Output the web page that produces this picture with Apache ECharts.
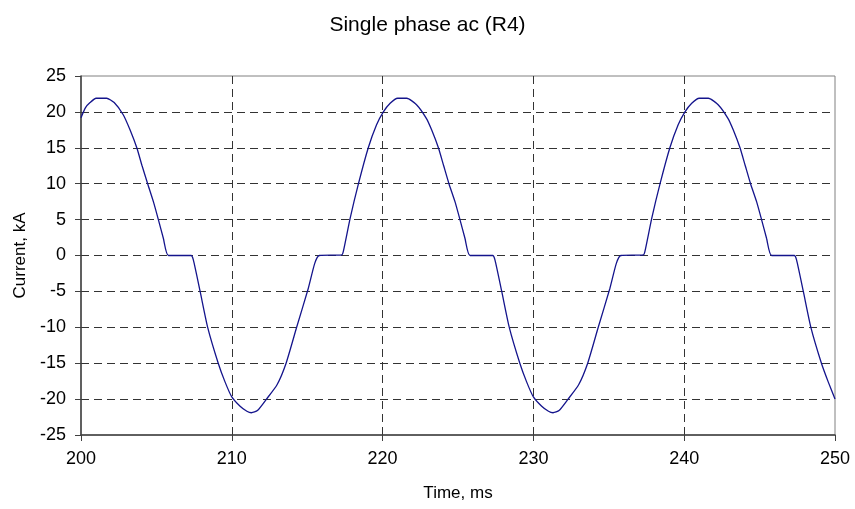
<!DOCTYPE html>
<html>
<head>
<meta charset="utf-8">
<script src="https://cdn.jsdelivr.net/npm/echarts@6/dist/echarts.min.js"></script>
<style>
html,body{margin:0;padding:0;background:#fff;}
#chart{width:855px;height:509px;}
</style>
</head>
<body>
<div id="chart"></div>
<script>
var chartTitle = 'Single phase ac (R4)';
var xAxisName = 'Time, ms';
var yAxisName = 'Current, kA';

var timeMs = [
200.0,200.3,200.6,201.0,201.7,202.2,202.8,203.25,203.7,204.05,204.42,204.8,205.13,205.46,205.8,
207.3,207.45,207.9,208.4,209.1,209.55,210.0,210.55,211.0,211.3,211.7,212.3,213.0,213.6,214.3,215.07,215.5,215.8,
217.3,217.4,217.85,218.4,219.05,219.6,220.05,220.5,221.0,221.6,222.25,222.9,223.25,223.7,224.05,224.4,224.8,225.13,225.46,225.8,
227.3,227.45,227.9,228.4,229.1,229.55,230.0,230.55,231.0,231.3,231.7,232.3,233.0,233.6,234.3,235.07,235.5,235.8,
237.3,237.4,237.85,238.4,239.05,239.6,240.05,240.5,241.0,241.6,242.25,242.9,243.25,243.7,244.05,244.4,244.8,245.13,245.46,245.8,
247.3,247.45,247.9,248.4,249.1,249.55,250.0
];

var currentKA = [
19.2,20.6,21.3,21.9,21.9,21.3,19.6,17.5,15.0,12.5,10.0,7.5,5.0,2.4,0,
0,-0.6,-5.0,-10.0,-15.0,-17.6,-19.7,-21.0,-21.7,-21.9,-21.6,-20.0,-18.0,-15.0,-10.0,-4.6,-1.1,0,
0.1,0.6,5.2,10.0,15.0,18.2,20.0,21.2,21.9,21.9,21.0,19.1,17.5,15.0,12.5,10.0,7.5,5.0,2.4,0,
0,-0.6,-5.0,-10.0,-15.0,-17.6,-19.7,-21.0,-21.7,-21.9,-21.6,-20.0,-18.0,-15.0,-10.0,-4.6,-1.1,0,
0.1,0.6,5.2,10.0,15.0,18.2,20.0,21.2,21.9,21.9,21.0,19.1,17.5,15.0,12.5,10.0,7.5,5.0,2.4,0,
0,-0.6,-5.0,-10.0,-15.0,-17.6,-20.0
];

var xMin = 200, xMax = 250, xStep = 10;
var yMin = -25, yMax = 25, yStep = 5;

var seriesData = timeMs.map(function (t, i) { return [t, currentKA[i]]; });

var font = '"Liberation Sans", Arial, sans-serif';
var chart = echarts.init(document.getElementById('chart'), null, {renderer: 'canvas'});
chart.setOption({
  animation: false,
  backgroundColor: '#ffffff',
  title: {
    text: chartTitle,
    left: 'center',
    top: 10,
    textStyle: {fontFamily: font, fontSize: 21, fontWeight: 'normal', color: '#000'}
  },
  grid: {
    left: 81, right: 20, top: 76, bottom: 74,
    show: true, borderColor: '#808080', borderWidth: 1, backgroundColor: 'transparent'
  },
  xAxis: {
    type: 'value', min: xMin, max: xMax, interval: xStep,
    name: xAxisName, nameLocation: 'middle', nameGap: 50,
    nameTextStyle: {fontFamily: font, fontSize: 17, color: '#000'},
    axisLine: {show: true, onZero: false, lineStyle: {color: '#404040', width: 1.5}},
    axisTick: {show: true, length: 6, inside: false, lineStyle: {color: '#404040', width: 1}},
    axisLabel: {fontFamily: font, fontSize: 18, color: '#000', margin: 15},
    splitLine: {show: true, showMinLine: false, showMaxLine: false,
      lineStyle: {color: '#333', width: 1, type: [8, 5]}}
  },
  yAxis: {
    type: 'value', min: yMin, max: yMax, interval: yStep,
    name: yAxisName, nameLocation: 'middle', nameGap: 51,
    nameTextStyle: {fontFamily: font, fontSize: 17, color: '#000'},
    axisLine: {show: true, onZero: false, lineStyle: {color: '#404040', width: 1.5}},
    axisTick: {show: true, length: 6, inside: false, lineStyle: {color: '#404040', width: 1}},
    axisLabel: {fontFamily: font, fontSize: 18, color: '#000', margin: 15},
    splitLine: {show: true, showMinLine: false, showMaxLine: false,
      lineStyle: {color: '#333', width: 1, type: [8, 5]}}
  },
  series: [{
    type: 'line',
    data: seriesData,
    showSymbol: false,
    smooth: 0.2,
    lineStyle: {color: '#14148c', width: 1.3},
    clip: true
  }]
});
</script>
</body>
</html>
